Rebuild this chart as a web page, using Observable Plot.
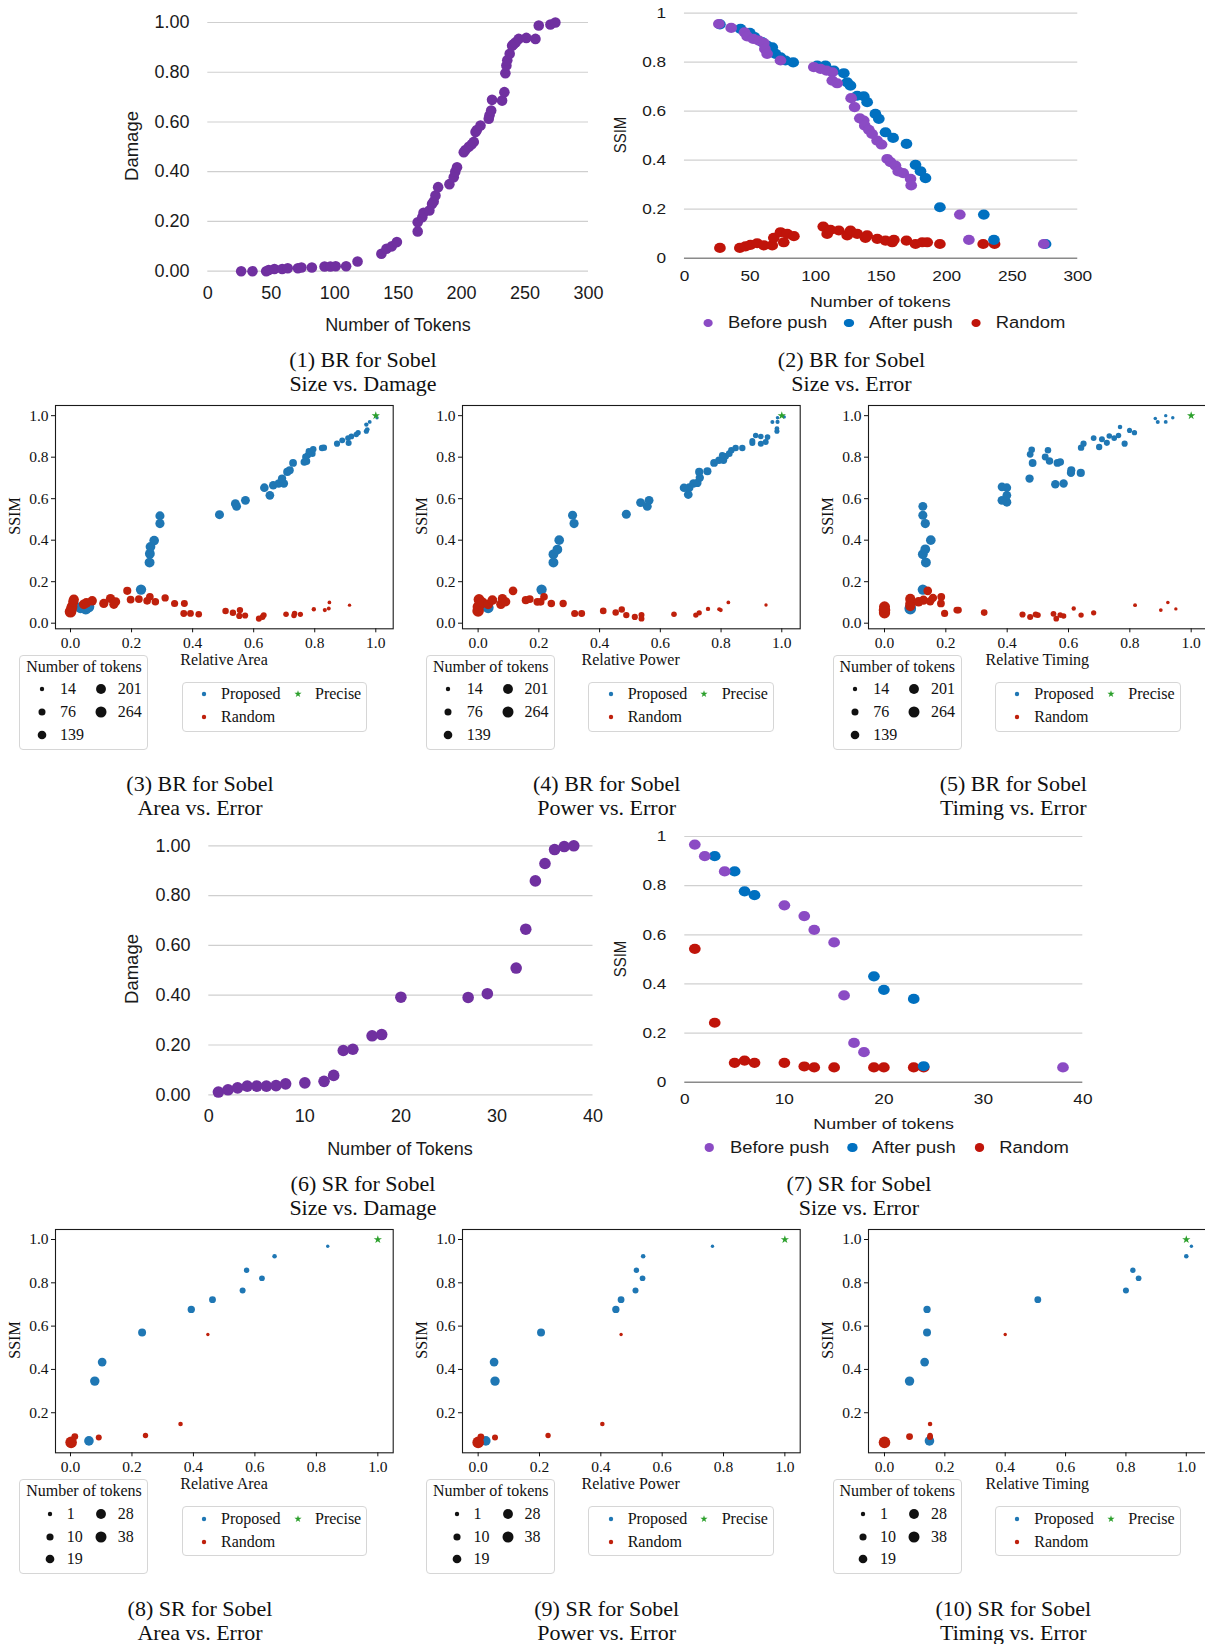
<!DOCTYPE html>
<html><head><meta charset="utf-8">
<script src="https://cdn.jsdelivr.net/npm/d3@7"></script>
<script src="https://cdn.jsdelivr.net/npm/@observablehq/plot@0.6"></script>
<style>
body{margin:0;background:#fff;}
#root{position:relative;width:1205px;height:1644px;overflow:hidden;background:#fff;}
</style></head><body><div id="root"></div>
<script>
// ---------------- DATA ----------------
// (1) BR Size vs Damage
const brSizeTokens = [26.3,35.2,46,48,52.5,58.6,63,71,73.8,82,92,96.6,100.8,109,118,136.8,140.8,145,149,165.4,165.4,169,170,174.6,176.7,178,179.4,181.5,190.4,193.8,195,196.4,201.7,203,205.7,208,209.6,211,212,214.9,221.4,222,223.3,224,231.9,233.7,234.5,235.3,236,237.9,239.8,241,242.5,245,251,258.2,260.8,270,273.9];
const brSizeDamage = [0,0,0,0.005,0.009,0.009,0.012,0.012,0.015,0.015,0.019,0.019,0.02,0.02,0.039,0.07,0.09,0.1,0.117,0.16,0.197,0.217,0.235,0.244,0.27,0.28,0.304,0.338,0.35,0.378,0.4,0.418,0.478,0.487,0.5,0.51,0.52,0.56,0.568,0.586,0.613,0.627,0.646,0.689,0.686,0.72,0.796,0.827,0.848,0.874,0.907,0.913,0.92,0.934,0.938,0.934,0.988,0.992,1.0];
// (2) BR Size vs Error
const brBeforeTokens = [26.2,35.6,45.8,47.8,52.4,56.7,60.5,61.3,63,73.2,98.6,103.7,108.3,112.7,112.7,116.4,127.1,129.7,133.7,136.7,137.5,140.6,143.1,146.9,150.3,154.6,157.1,160.9,163,166.8,172.4,172.9,210,216.9,274];
const brBeforeSSIM = [0.956,0.94,0.922,0.905,0.895,0.888,0.878,0.854,0.834,0.807,0.78,0.773,0.766,0.759,0.725,0.714,0.653,0.617,0.571,0.562,0.541,0.524,0.507,0.48,0.464,0.405,0.392,0.378,0.354,0.347,0.324,0.297,0.178,0.075,0.058];
const brAfterTokens = [27,42.7,49.8,53.4,59.2,63,66.9,69.4,73.2,77,82.9,101.2,107.5,113.9,121.5,124.1,126.6,131.7,136.7,139.3,145.6,148.2,153.3,159.1,169.3,176.2,180,183.8,194.8,228.3,236,275.4];
const brAfterSSIM = [0.954,0.936,0.92,0.902,0.882,0.868,0.861,0.834,0.82,0.807,0.799,0.786,0.786,0.766,0.755,0.718,0.704,0.663,0.661,0.637,0.589,0.569,0.514,0.491,0.467,0.381,0.355,0.327,0.208,0.178,0.075,0.058];
const brRandomTokens = [27,42.2,46.5,50.3,55.4,60.5,66.9,68.1,73.2,75.7,78.3,83.4,105.8,108.8,111.3,117.7,124.1,126.6,131.7,138,139.3,147,153.3,158.4,159.7,169.3,176.2,181.3,185.1,194.8,227.8,236.5];
const brRandomSSIM = [0.042,0.042,0.048,0.054,0.061,0.052,0.052,0.083,0.106,0.065,0.099,0.09,0.129,0.099,0.116,0.113,0.093,0.113,0.099,0.083,0.093,0.079,0.072,0.065,0.075,0.072,0.058,0.065,0.065,0.058,0.058,0.058];
// (3) BR Area vs Error  [relative, SSIM, tokens]
const brAreaProposed = [[1.004,0.99,14],[0.98,0.97,20],[0.969,0.957,27],[0.972,0.933,35],[0.969,0.925,40],[0.942,0.918,45],[0.936,0.909,48],[0.92,0.9,52],[0.909,0.892,55],[0.911,0.868,62],[0.89,0.881,58],[0.873,0.865,64],[0.83,0.846,68],[0.824,0.844,70],[0.795,0.838,72],[0.792,0.817,76],[0.781,0.828,74],[0.777,0.809,78],[0.77,0.801,82],[0.766,0.777,104],[0.773,0.78,100],[0.729,0.772,108],[0.718,0.737,120],[0.71,0.729,122],[0.693,0.697,127],[0.699,0.673,130],[0.682,0.673,131],[0.664,0.665,134],[0.653,0.616,141],[0.635,0.653,137],[0.573,0.592,146],[0.54,0.576,148],[0.544,0.563,149],[0.488,0.523,153],[0.293,0.517,154],[0.293,0.48,159],[0.274,0.398,176],[0.262,0.368,180],[0.26,0.335,184],[0.259,0.292,187],[0.231,0.162,205],[0.033,0.075,236],[0.06,0.079,236],[0.05,0.07,264]];
const brAreaRandom = [[0,0.055,264],[0.002,0.063,236],[0.005,0.079,228],[0.009,0.103,200],[0.011,0.114,195],[0.044,0.091,185],[0.052,0.098,181],[0.071,0.108,170],[0.109,0.095,160],[0.131,0.119,159],[0.142,0.091,158],[0.148,0.103,154],[0.186,0.156,120],[0.197,0.114,110],[0.224,0.116,108],[0.251,0.108,106],[0.26,0.127,105],[0.278,0.103,100],[0.31,0.122,95],[0.341,0.095,90],[0.373,0.095,85],[0.371,0.047,82],[0.393,0.047,80],[0.42,0.043,76],[0.508,0.059,72],[0.532,0.05,70],[0.555,0.063,68],[0.553,0.035,66],[0.572,0.037,64],[0.617,0.022,60],[0.633,0.039,58],[0.629,0.03,56],[0.706,0.043,50],[0.734,0.047,48],[0.732,0.037,46],[0.753,0.043,43],[0.797,0.067,27],[0.833,0.063,24],[0.846,0.071,20],[0.848,0.1,18],[0.914,0.087,14]];
// (4) BR Power vs Error
const brPowerProposed = [[1.008,0.994,14],[0.986,0.99,16],[0.969,0.97,22],[0.986,0.97,24],[0.984,0.937,35],[0.984,0.925,40],[0.953,0.897,52],[0.947,0.873,60],[0.931,0.9,50],[0.931,0.865,62],[0.914,0.905,48],[0.903,0.878,58],[0.903,0.868,60],[0.87,0.844,68],[0.848,0.844,70],[0.834,0.833,72],[0.827,0.817,76],[0.815,0.804,80],[0.808,0.785,95],[0.804,0.809,78],[0.793,0.785,96],[0.777,0.772,108],[0.755,0.732,120],[0.728,0.729,122],[0.73,0.701,126],[0.722,0.676,130],[0.709,0.673,131],[0.695,0.653,137],[0.692,0.62,141],[0.678,0.653,136],[0.563,0.592,146],[0.557,0.563,149],[0.535,0.581,147],[0.488,0.525,153],[0.311,0.52,154],[0.316,0.48,159],[0.267,0.4,176],[0.261,0.355,181],[0.248,0.332,184],[0.248,0.292,187],[0.209,0.162,205],[0.033,0.075,236],[0.02,0.087,236]];
const brPowerRandom = [[0,0.059,264],[0,0.079,236],[0.003,0.114,228],[0.007,0.091,200],[0.014,0.1,195],[0.033,0.091,185],[0.047,0.111,181],[0.075,0.091,170],[0.08,0.119,160],[0.091,0.103,158],[0.115,0.156,140],[0.157,0.111,120],[0.17,0.116,110],[0.195,0.103,108],[0.206,0.103,106],[0.217,0.127,105],[0.241,0.095,100],[0.28,0.095,95],[0.318,0.047,88],[0.341,0.047,85],[0.412,0.059,76],[0.453,0.051,72],[0.473,0.066,70],[0.488,0.039,68],[0.516,0.03,64],[0.538,0.039,60],[0.538,0.022,58],[0.645,0.043,50],[0.717,0.039,46],[0.728,0.05,44],[0.757,0.069,27],[0.794,0.067,24],[0.799,0.063,22],[0.824,0.1,18],[0.948,0.088,14]];
// (5) BR Timing vs Error
const brTimingProposed = [[0.883,0.986,16],[0.891,0.97,22],[0.917,1.0,14],[0.917,0.97,20],[0.94,0.99,15],[0.682,0.892,55],[0.7,0.849,68],[0.709,0.886,58],[0.725,0.869,62],[0.733,0.902,50],[0.749,0.892,54],[0.763,0.905,48],[0.768,0.945,30],[0.783,0.865,64],[0.799,0.929,40],[0.815,0.918,45],[0.641,0.846,70],[0.649,0.865,65],[0.64,0.724,122],[0.609,0.737,120],[0.608,0.724,124],[0.573,0.777,104],[0.564,0.772,108],[0.584,0.673,131],[0.557,0.669,133],[0.538,0.782,100],[0.533,0.833,72],[0.524,0.801,82],[0.483,0.772,110],[0.475,0.814,78],[0.48,0.836,74],[0.473,0.697,127],[0.399,0.653,137],[0.383,0.657,136],[0.399,0.616,141],[0.383,0.592,146],[0.399,0.583,147],[0.125,0.563,149],[0.125,0.52,154],[0.133,0.48,159],[0.151,0.4,176],[0.133,0.356,181],[0.125,0.332,184],[0.135,0.292,187],[0.125,0.162,205],[0.084,0.075,236],[0.084,0.07,264]];
const brTimingRandom = [[0,0.063,264],[0,0.079,236],[0,0.05,250],[0.084,0.117,200],[0.084,0.095,195],[0.084,0.082,190],[0.111,0.103,170],[0.127,0.111,160],[0.141,0.156,140],[0.149,0.106,130],[0.158,0.122,125],[0.185,0.127,110],[0.184,0.095,108],[0.196,0.047,90],[0.236,0.063,85],[0.241,0.063,82],[0.325,0.051,76],[0.45,0.042,64],[0.475,0.03,62],[0.493,0.042,60],[0.5,0.039,58],[0.551,0.045,55],[0.56,0.022,52],[0.573,0.039,50],[0.584,0.035,48],[0.617,0.071,27],[0.641,0.039,46],[0.682,0.05,44],[0.817,0.087,20],[0.901,0.063,18],[0.924,0.1,16],[0.95,0.069,14]];
// (6) SR Size vs Damage
const srSizeTokens = [1,2,3,4,5,6,7,8,10,12,13,14,15,17,18,20,27,29,32,33,34,35,36,37,38];
const srSizeDamage = [0.011,0.02,0.028,0.035,0.035,0.035,0.037,0.044,0.048,0.054,0.078,0.178,0.183,0.237,0.242,0.392,0.391,0.406,0.509,0.665,0.859,0.929,0.985,0.997,1.0];
// (7) SR Size vs Error
const srBeforeTokens = [1,2,4,10,12,13,15,16,17,18,38];
const srBeforeSSIM = [0.967,0.92,0.858,0.72,0.676,0.62,0.569,0.353,0.16,0.122,0.06];
const srAfterTokens = [3,5,6,7,19,20,23,24];
const srAfterSSIM = [0.92,0.858,0.777,0.761,0.431,0.376,0.339,0.065];
const srRandomTokens = [1,3,5,6,7,10,12,13,15,19,20,23,24];
const srRandomSSIM = [0.543,0.242,0.079,0.088,0.079,0.079,0.064,0.06,0.06,0.06,0.06,0.06,0.06];
// (8)-(10) SR  [relative, SSIM, tokens]
const srAreaProposed = [[0.837,0.969,1],[0.664,0.923,3],[0.573,0.858,5],[0.623,0.821,6],[0.56,0.764,7],[0.462,0.722,10],[0.393,0.677,12],[0.233,0.571,15],[0.103,0.434,19],[0.079,0.346,23],[0.06,0.07,24]];
const srAreaRandom = [[0.447,0.561,1],[0.358,0.148,3],[0.244,0.095,5],[0.092,0.086,7],[0.014,0.09,10],[0.002,0.063,38]];
const srPowerProposed = [[0.764,0.969,1],[0.538,0.923,3],[0.516,0.858,5],[0.536,0.821,6],[0.513,0.764,7],[0.466,0.722,10],[0.449,0.677,12],[0.205,0.571,15],[0.052,0.434,19],[0.055,0.346,23],[0.025,0.07,24]];
const srPowerRandom = [[0.466,0.561,1],[0.405,0.148,3],[0.228,0.095,5],[0.055,0.086,7],[0.009,0.088,10],[0,0.063,38]];
const srTimingProposed = [[1.017,0.969,1],[1.0,0.923,3],[0.823,0.858,5],[0.842,0.821,6],[0.8,0.764,7],[0.508,0.722,10],[0.141,0.677,12],[0.141,0.571,15],[0.133,0.434,19],[0.083,0.346,23],[0.149,0.07,24]];
const srTimingRandom = [[0.4,0.561,1],[0.151,0.148,3],[0.151,0.095,5],[0.151,0.088,7],[0.083,0.09,10],[0,0.063,38]];
const precisePoint = [[1,1]];
// ticks / legend values
const brLegendTokens = [14,76,139,201,264];
const srLegendTokens = [1,10,19,28,38];
const ssimTicksExcel = [0,0.2,0.4,0.6,0.8,1];
const damageTicks = [0,0.2,0.4,0.6,0.8,1];
const relTicks = [0,0.2,0.4,0.6,0.8,1];

// ---------------- HELPERS ----------------
const root = document.getElementById("root");
const SANS = '"Liberation Sans", Arial, Helvetica, sans-serif';
const SERIF = '"Liberation Serif", "Times New Roman", Times, serif';
const C = {damage:"#7030a0", before:"#8b4bc4", after:"#0070c0", random:"#c0140a",
           prop:"#1f77b4", rand:"#bf200c", precise:"#2ca02c"};

function label(str, cx, cy, o={}) {
  const {font=SANS, size=18, parent=root, rotate=false, anchor="middle", color="#1a1a1a"} = o;
  const d = document.createElement("div");
  d.textContent = str;
  Object.assign(d.style, {position:"absolute", left:cx+"px", top:cy+"px", whiteSpace:"nowrap",
    lineHeight:"1", fontFamily:font, fontSize:size+"px", color});
  d.style.transform = rotate ? "translate(-50%,-50%) rotate(-90deg)" :
    anchor === "start" ? "translate(0,-50%)" : "translate(-50%,-50%)";
  parent.appendChild(d);
  return d;
}
function place(node, left, top, parent=root) {
  node.style.position = "absolute";
  node.style.left = left + "px";
  node.style.top = top + "px";
  parent.appendChild(node);
  return node;
}
function caption(lines, cx, cy1) {
  const d = document.createElement("div");
  d.innerHTML = lines.join("<br>");
  Object.assign(d.style, {position:"absolute", left:(cx-200)+"px", width:"400px", top:(cy1-12)+"px",
    textAlign:"center", fontFamily:SERIF, fontSize:"22px", lineHeight:"24px", color:"#111"});
  root.appendChild(d);
}
const pairs = (xs, ys) => xs.map((x, i) => ({x, y: ys[i]}));

// ---------------- Excel-like damage panels ----------------
function damagePanel({left, top, W, H, mL, mR, mT, mB, xDomain, xTicks, tokens, damage, r}) {
  const svg = Plot.plot({
    width: W, height: H, marginLeft: mL, marginRight: mR, marginTop: mT, marginBottom: mB,
    x: {domain: xDomain}, y: {domain: [0, 1]},
    style: {fontFamily: SANS, fontSize: "18px", color: "#1a1a1a", background: "transparent", overflow: "visible"},
    marks: [
      Plot.gridY(damageTicks, {stroke: "#cfcfcf", strokeOpacity: 1, strokeWidth: 1.2}),
      Plot.axisY(damageTicks, {tickSize: 0, tickPadding: 18.3, tickFormat: d3.format(".2f"), label: null}),
      Plot.axisX(xTicks, {tickSize: 0, tickPadding: 14.8, tickFormat: d => String(d), label: null}),
      Plot.dot(pairs(tokens, damage), {x: "x", y: "y", r, fill: C.damage, stroke: "none"})
    ]
  });
  place(svg, left, top);
}

// ---------------- Excel-like SSIM panels (horizontally stretched) ----------------
function ssimPanel({top, H, mL, mR, mT, mB, xDomain, xTicks, before, after, random, xPad, xLabelX, xLabelY, legY, legX, ssimY}) {
  const cont = document.createElement("div");
  Object.assign(cont.style, {position:"absolute", left:"600px", top: top+"px", width:"450px", height:"345px",
    transform:"scaleX(1.15)", transformOrigin:"0 0"});
  root.appendChild(cont);
  const svg = Plot.plot({
    width: 450, height: H, marginLeft: mL, marginRight: mR, marginTop: mT, marginBottom: mB,
    x: {domain: xDomain}, y: {domain: [0, 1]},
    style: {fontFamily: SANS, fontSize: "15px", color: "#1a1a1a", background: "transparent", overflow: "visible"},
    marks: [
      Plot.gridY(ssimTicksExcel.slice(1), {stroke: "#d0d0d0", strokeOpacity: 1, strokeWidth: 1.2}),
      Plot.ruleY([0], {stroke: "#8a8a8a", strokeWidth: 1.6}),
      Plot.axisY(ssimTicksExcel, {tickSize: 0, tickPadding: 16, tickFormat: d => String(d), label: null}),
      Plot.axisX(xTicks, {tickSize: 0, tickPadding: xPad, tickFormat: d => String(d), label: null}),
      Plot.dot(random, {x: "x", y: "y", r: 5.1, fill: C.random, stroke: "none"}),
      Plot.dot(after, {x: "x", y: "y", r: 5.1, fill: C.after, stroke: "none"}),
      Plot.dot(before, {x: "x", y: "y", r: 5.1, fill: C.before, stroke: "none"})
    ]
  });
  place(svg, 0, 0, cont);
  label("SSIM", 17.4, ssimY, {size: 15, rotate: true, parent: cont});
  label("Number of tokens", xLabelX, xLabelY, {size: 15.5, parent: cont});
  const names = ["Before push", "After push", "Random"];
  const cols = [C.before, C.after, C.random];
  names.forEach((n, i) => {
    const sw = document.createElement("div");
    Object.assign(sw.style, {position:"absolute", left:(legX[i][0]-4.2)+"px", top:(legY-4.3)+"px",
      width:"8.4px", height:"8.6px", borderRadius:"50%", background: cols[i]});
    cont.appendChild(sw);
    label(n, legX[i][1], legY, {size: 16, anchor: "start", parent: cont});
  });
}

// ---------------- matplotlib-like panels ----------------
function mplPanel({ox, fy, xDomain, yDomain, yTicks, proposed, random, rDomain, xLabel, legendVals, sr, cap}) {
  const W = 400, H = 260, mL = 55, mR = 7.3, mT = 10, mB = 26.7;
  const svg = Plot.plot({
    width: W, height: H, marginLeft: mL, marginRight: mR, marginTop: mT, marginBottom: mB,
    x: {domain: xDomain}, y: {domain: yDomain},
    r: {type: "sqrt", domain: rDomain, range: [1.7, 5.8]},
    style: {fontFamily: SERIF, fontSize: "15.5px", color: "#111", background: "transparent", overflow: "visible"},
    marks: [
      Plot.dot(proposed, {x: d => d[0], y: d => d[1], r: d => d[2], fill: C.prop, stroke: "none"}),
      Plot.dot(random, {x: d => d[0], y: d => d[1], r: d => d[2], fill: C.rand, stroke: "none"}),
      Plot.dot(precisePoint, {x: d => d[0], y: d => d[1], symbol: "star", r: 2.6, fill: C.precise, stroke: "none"}),
      Plot.frame({stroke: "#1a1a1a", strokeWidth: 1.1}),
      Plot.axisX(relTicks, {tickSize: 4, tickPadding: 4.5, tickFormat: d3.format(".1f"), label: null}),
      Plot.axisY(yTicks, {tickSize: 4, tickPadding: 3, tickFormat: d3.format(".1f"), label: null})
    ]
  });
  place(svg, ox, fy - mT);
  label("SSIM", ox + 15, fy + 111, {font: SERIF, size: 16, rotate: true, color: "#111"});
  label(xLabel, ox + 224, fy + 255, {font: SERIF, size: 16, color: "#111"});

  // size legend
  const legR = Plot.scale({r: {type: "sqrt", domain: [legendVals[0], legendVals[4]], range: [2.2, 5.5]}});
  const box = document.createElement("div");
  Object.assign(box.style, {position:"absolute", left:(ox+19.3)+"px", top:(fy+250)+"px", width:"129px", height:"95px",
    border:"1px solid #d6d6d6", borderRadius:"4px", background:"#fff", boxSizing:"border-box"});
  root.appendChild(box);
  label("Number of tokens", ox + 84, fy + 262, {font: SERIF, size: 16, color: "#111"});
  const rows = [fy + 284.3, fy + 307.2, fy + 330];
  const c1 = sr ? [ox + 50, ox + 66.7] : [ox + 41.7, ox + 60];
  const c2 = [ox + 101, ox + 117.7];
  legendVals.forEach((v, i) => {
    const col = i < 3 ? c1 : c2;
    const ry = rows[i < 3 ? i : i - 3];
    const rr = legR.apply(v);
    const s = document.createElementNS("http://www.w3.org/2000/svg", "svg");
    s.setAttribute("width", 14); s.setAttribute("height", 14);
    s.innerHTML = `<circle cx="7" cy="7" r="${rr}" fill="#111"/>`;
    place(s, col[0] - 7, ry - 7);
    label(String(v), col[1], ry, {font: SERIF, size: 16, anchor: "start", color: "#111"});
  });

  // category legend
  const box2 = document.createElement("div");
  Object.assign(box2.style, {position:"absolute", left:(ox+181.7)+"px", top:(fy+276.5)+"px", width:"185.6px", height:"50px",
    border:"1px solid #d6d6d6", borderRadius:"4px", background:"#fff", boxSizing:"border-box"});
  root.appendChild(box2);
  const items = [
    {name: "Proposed", x: ox + 204, tx: ox + 221, y: fy + 289.3, color: C.prop, star: false},
    {name: "Precise", x: ox + 297.7, tx: ox + 315, y: fy + 289.3, color: C.precise, star: true},
    {name: "Random", x: ox + 204, tx: ox + 221, y: fy + 312.3, color: C.rand, star: false}
  ];
  items.forEach(it => {
    const s = document.createElementNS("http://www.w3.org/2000/svg", "svg");
    s.setAttribute("width", 12); s.setAttribute("height", 12);
    s.innerHTML = it.star
      ? `<path transform="translate(6,6)" d="${d3.symbol(d3.symbolStar, 16)()}" fill="${it.color}"/>`
      : `<circle cx="6" cy="6" r="2.2" fill="${it.color}"/>`;
    place(s, it.x - 6, it.y - 6);
    label(it.name, it.tx, it.y, {font: SERIF, size: 16, anchor: "start", color: "#111"});
  });
  caption(cap, ox + 200, fy + 379.4);
}

// ---------------- BUILD ----------------
// (1)
damagePanel({left: 100, top: 0, W: 520, H: 300, mL: 107.3, mR: 32, mT: 22, mB: 29.3,
  xDomain: [0, 300], xTicks: [0, 50, 100, 150, 200, 250, 300], tokens: brSizeTokens, damage: brSizeDamage, r: 5.3});
label("Damage", 132, 146, {size: 18.5, rotate: true});
label("Number of Tokens", 398, 325, {size: 18});
caption(["(1) BR for Sobel", "Size vs. Damage"], 363, 360);

// (2)
ssimPanel({top: 0, H: 285, mL: 73, mR: 35, mT: 12.7, mB: 27.3, xDomain: [0, 300],
  xTicks: [0, 50, 100, 150, 200, 250, 300],
  before: pairs(brBeforeTokens, brBeforeSSIM), after: pairs(brAfterTokens, brAfterSSIM), random: pairs(brRandomTokens, brRandomSSIM),
  xPad: 11.9, xLabelX: 243.7, xLabelY: 301.7, legY: 323,
  legX: [[93.9, 111.3], [216.5, 233.9], [326.7, 344.1]], ssimY: 135});
caption(["(2) BR for Sobel", "Size vs. Error"], 851.5, 360);

// (3)-(5)
mplPanel({ox: 0, fy: 405, xDomain: [-0.0491, 1.057], yDomain: [-0.027, 1.049], yTicks: relTicks,
  proposed: brAreaProposed, random: brAreaRandom, rDomain: [14, 264], xLabel: "Relative Area",
  legendVals: brLegendTokens, sr: false, cap: ["(3) BR for Sobel", "Area vs. Error"]});
mplPanel({ox: 406.7, fy: 405, xDomain: [-0.0514, 1.0606], yDomain: [-0.027, 1.049], yTicks: relTicks,
  proposed: brPowerProposed, random: brPowerRandom, rDomain: [14, 264], xLabel: "Relative Power",
  legendVals: brLegendTokens, sr: false, cap: ["(4) BR for Sobel", "Power vs. Error"]});
mplPanel({ox: 813.3, fy: 405, xDomain: [-0.0522, 1.049], yDomain: [-0.027, 1.049], yTicks: relTicks,
  proposed: brTimingProposed, random: brTimingRandom, rDomain: [14, 264], xLabel: "Relative Timing",
  legendVals: brLegendTokens, sr: false, cap: ["(5) BR for Sobel", "Timing vs. Error"]});

// (6)
damagePanel({left: 100, top: 820, W: 520, H: 310, mL: 108.3, mR: 27.5, mT: 25.3, mB: 35.7,
  xDomain: [0, 40], xTicks: [0, 10, 20, 30, 40], tokens: srSizeTokens, damage: srSizeDamage, r: 5.8});
label("Damage", 131.7, 969, {size: 18.5, rotate: true});
label("Number of Tokens", 400, 1149.3, {size: 18});
caption(["(6) SR for Sobel", "Size vs. Damage"], 363, 1184);

// (7)
ssimPanel({top: 820, H: 290, mL: 73.3, mR: 30.6, mT: 16, mB: 28.3, xDomain: [0, 40],
  xTicks: [0, 10, 20, 30, 40],
  before: pairs(srBeforeTokens, srBeforeSSIM), after: pairs(srAfterTokens, srAfterSSIM), random: pairs(srRandomTokens, srRandomSSIM),
  xPad: 11.2, xLabelX: 246.7, xLabelY: 304.3, legY: 327.7,
  legX: [[95, 113], [219.4, 236.3], [329.8, 347.2]], ssimY: 139});
caption(["(7) SR for Sobel", "Size vs. Error"], 859, 1184);

// (8)-(10)
const srTicks = [0.2, 0.4, 0.6, 0.8, 1];
mplPanel({ox: 0, fy: 1229.3, xDomain: [-0.0488, 1.05], yDomain: [0.015, 1.0462], yTicks: srTicks,
  proposed: srAreaProposed, random: srAreaRandom, rDomain: [1, 38], xLabel: "Relative Area",
  legendVals: srLegendTokens, sr: true, cap: ["(8) SR for Sobel", "Area vs. Error"]});
mplPanel({ox: 406.7, fy: 1229.3, xDomain: [-0.051, 1.05], yDomain: [0.015, 1.0462], yTicks: srTicks,
  proposed: srPowerProposed, random: srPowerRandom, rDomain: [1, 38], xLabel: "Relative Power",
  legendVals: srLegendTokens, sr: true, cap: ["(9) SR for Sobel", "Power vs. Error"]});
mplPanel({ox: 813.3, fy: 1229.3, xDomain: [-0.053, 1.066], yDomain: [0.015, 1.0462], yTicks: srTicks,
  proposed: srTimingProposed, random: srTimingRandom, rDomain: [1, 38], xLabel: "Relative Timing",
  legendVals: srLegendTokens, sr: true, cap: ["(10) SR for Sobel", "Timing vs. Error"]});
</script></body></html>
